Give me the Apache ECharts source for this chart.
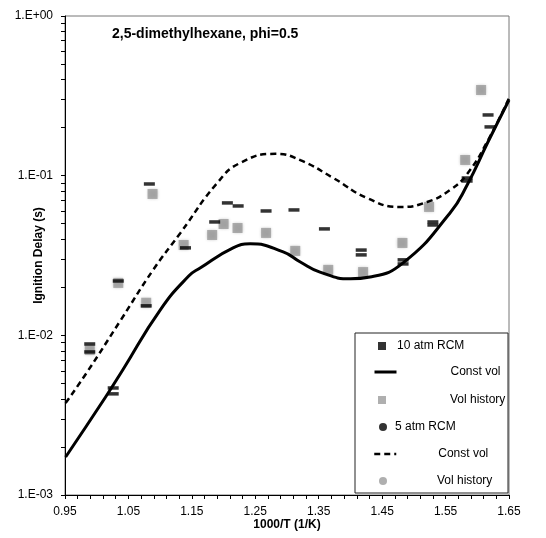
<!DOCTYPE html>
<html>
<head>
<meta charset="utf-8">
<script src="https://cdn.jsdelivr.net/npm/echarts@6/dist/echarts.min.js"></script>
<style>
  html, body { margin: 0; padding: 0; background: #fff; }
  #chart { width: 546px; height: 538px; }
</style>
</head>
<body>
<div id="chart"></div>
<script>
// tick labels
var xTicks = [0.95, 1.05, 1.15, 1.25, 1.35, 1.45, 1.55, 1.65];
var yTicks = [0.001, 0.01, 0.1, 1];

// model curves (constant volume)
var solidX = [0.951, 1.014, 1.041, 1.100, 1.145, 1.163, 1.215, 1.242, 1.294, 1.321, 1.352, 1.400, 1.431, 1.483, 1.557, 1.584, 1.617, 1.650];
var solidY = [0.00173, 0.00411, 0.00607, 0.0144, 0.0235, 0.0264, 0.0353, 0.0374, 0.0333, 0.0288, 0.0249, 0.0226, 0.0232, 0.0284, 0.0584, 0.0875, 0.163, 0.298];
var dashX = [0.951, 0.985, 1.037, 1.089, 1.132, 1.190, 1.226, 1.282, 1.321, 1.373, 1.426, 1.478, 1.521, 1.557, 1.584, 1.617, 1.650];
var dashY = [0.00377, 0.0059, 0.0123, 0.0257, 0.0438, 0.0900, 0.120, 0.137, 0.125, 0.0967, 0.0725, 0.0637, 0.0684, 0.0814, 0.1025, 0.167, 0.306];

// RCM measurements
var rcm10X = [0.989, 1.026, 1.078, 1.140, 1.186, 1.223, 1.267, 1.359, 1.417, 1.483, 1.530, 1.584, 1.620];
var rcm10Y = [0.00787, 0.00430, 0.0153, 0.0353, 0.0513, 0.0646, 0.0601, 0.0464, 0.0319, 0.0280, 0.0491, 0.0926, 0.202];
var rcm5X = [0.989, 1.026, 1.034, 1.083, 1.206, 1.311, 1.417, 1.483, 1.530, 1.584, 1.617];
var rcm5Y = [0.00883, 0.00468, 0.0219, 0.0887, 0.0675, 0.0610, 0.0342, 0.0297, 0.0513, 0.0967, 0.240];

// volume history simulations
var hist10X = [1.078, 1.137, 1.182, 1.222, 1.267, 1.365, 1.420, 1.606];
var hist10Y = [0.0160, 0.0368, 0.0425, 0.0470, 0.0438, 0.0257, 0.0249, 0.344];
var hist5X = [0.989, 1.034, 1.088, 1.200, 1.313, 1.482, 1.524, 1.581];
var hist5Y = [0.0081, 0.0213, 0.0768, 0.0498, 0.0338, 0.0379, 0.0637, 0.1254];

function pairs(xs, ys) {
    var out = [];
    for (var i = 0; i < xs.length; i++) {
        out.push([xs[i], ys[i]]);
    }
    return out;
}

var font = 'Liberation Sans, Arial, sans-serif';

// minor ticks on y at 1..9 per decade
var yMinor = [];
for (var d = 0; d < yTicks.length - 1; d++) {
    for (var m = 1; m < 10; m++) {
        yMinor.push(+(yTicks[d] * m).toPrecision(3));
    }
}
yMinor.push(1);

function yFmt(v) {
    var e = Math.round(Math.log10(v));
    var s = Math.abs(e) < 10 ? '0' + Math.abs(e) : '' + Math.abs(e);
    return '1.E' + (e < 0 ? '-' : '+') + s;
}

function legendItem(name, label, left, cy, icon, w, h, pad, lineW) {
    var item = { name: name };
    if (icon) item.icon = icon;
    var lg = {
        data: [item],
        left: left,
        top: cy - 7,
        padding: 0,
        z: 20,
        itemWidth: w,
        itemHeight: h,
        selectedMode: false,
        formatter: function () { return '{p|' + label + '}'; },
        textStyle: {
            fontFamily: font,
            fontSize: 12,
            color: '#000',
            rich: { p: { padding: [0, 0, 0, pad], fontFamily: font, fontSize: 12, color: '#000' } }
        }
    };
    if (lineW) {
        // line entries: hide the symbol, keep the stroke
        lg.itemStyle = { opacity: 0 };
        lg.lineStyle = { width: lineW };
    }
    return lg;
}

var myChart = echarts.init(document.getElementById('chart'));

var option = {
    backgroundColor: '#fff',
    animation: false,
    title: {
        text: '2,5-dimethylhexane, phi=0.5',
        left: 112,
        top: 27,
        padding: 0,
        textStyle: { fontFamily: font, fontSize: 14, fontWeight: 'bold', color: '#000' }
    },
    grid: {
        left: 65, right: 37, top: 16, bottom: 43,
        show: true, borderColor: '#777', borderWidth: 1
    },
    graphic: [{
        type: 'rect',
        shape: { x: 355, y: 333, width: 153, height: 160 },
        style: { fill: '#fff', stroke: '#222', lineWidth: 1 },
        z: 1
    }],
    legend: [
        legendItem('10 atm RCM', '10 atm RCM', 378, 347, 'rect', 8, 8, 6),
        legendItem('Const vol (10 atm)', 'Const vol', 373, 373, null, 22, 8, 49, 3),
        legendItem('Vol history (10 atm)', 'Vol history', 378, 401, 'rect', 8, 8, 59),
        legendItem('5 atm RCM', '5 atm RCM', 379, 428, 'circle', 8, 8, 3),
        legendItem('Const vol (5 atm)', 'Const vol', 373, 455, null, 22, 8, 37, 2.5),
        legendItem('Vol history (5 atm)', 'Vol history', 379, 482, 'circle', 8, 8, 45)
    ],
    xAxis: {
        type: 'value',
        min: 0.95,
        max: 1.65,
        interval: 0.02,
        name: '1000/T (1/K)',
        nameLocation: 'middle',
        nameGap: 24,
        nameMoveOverlap: false,
        nameTextStyle: { fontFamily: font, fontSize: 12, fontWeight: 'bold', color: '#000' },
        axisLine: { show: true, onZero: false, lineStyle: { color: '#000', width: 1 } },
        axisTick: { show: true, length: 4, lineStyle: { color: '#000' } },
        axisLabel: {
            customValues: xTicks,
            margin: 11,
            fontFamily: font, fontSize: 12, color: '#000',
            formatter: function (v) { return v.toFixed(2); }
        },
        splitLine: { show: false }
    },
    yAxis: {
        type: 'log',
        logBase: 10,
        min: 0.001,
        max: 1,
        name: 'Ignition Delay (s)',
        nameLocation: 'middle',
        nameGap: 20,
        nameMoveOverlap: false,
        nameTextStyle: { fontFamily: font, fontSize: 12, fontWeight: 'bold', color: '#000' },
        axisLine: { show: true, lineStyle: { color: '#000', width: 1 } },
        axisTick: { show: true, interval: 0, length: 4, customValues: yMinor, lineStyle: { color: '#000' } },
        axisLabel: {
            customValues: yTicks,
            margin: 12,
            fontFamily: font, fontSize: 12, color: '#000',
            formatter: yFmt
        },
        splitLine: { show: false }
    },
    series: [
        {
            name: 'Vol history (10 atm)',
            type: 'scatter',
            symbol: 'rect',
            symbolSize: [10, 10],
            itemStyle: { color: '#9b9b9b', shadowBlur: 3, shadowColor: '#aaa' },
            data: pairs(hist10X, hist10Y),
            z: 2
        },
        {
            name: 'Vol history (5 atm)',
            type: 'scatter',
            symbol: 'rect',
            symbolSize: [10, 10],
            itemStyle: { color: '#9b9b9b', shadowBlur: 3, shadowColor: '#aaa' },
            data: pairs(hist5X, hist5Y),
            z: 2
        },
        {
            name: '10 atm RCM',
            type: 'scatter',
            symbol: 'rect',
            symbolSize: [11, 3.5],
            itemStyle: { color: '#000' },
            data: pairs(rcm10X, rcm10Y),
            z: 3
        },
        {
            name: '5 atm RCM',
            type: 'scatter',
            symbol: 'rect',
            symbolSize: [11, 3.5],
            itemStyle: { color: '#000' },
            data: pairs(rcm5X, rcm5Y),
            z: 3
        },
        {
            name: 'Const vol (10 atm)',
            type: 'line',
            symbol: 'none',
            smooth: 0.5,
            lineStyle: { color: '#000', width: 3 },
            itemStyle: { color: '#000' },
            data: pairs(solidX, solidY),
            z: 4
        },
        {
            name: 'Const vol (5 atm)',
            type: 'line',
            symbol: 'none',
            smooth: 0.5,
            lineStyle: { color: '#000', width: 2.5, type: [6, 4] },
            itemStyle: { color: '#000' },
            data: pairs(dashX, dashY),
            z: 4
        }
    ]
};

myChart.setOption(option);
</script>
</body>
</html>
